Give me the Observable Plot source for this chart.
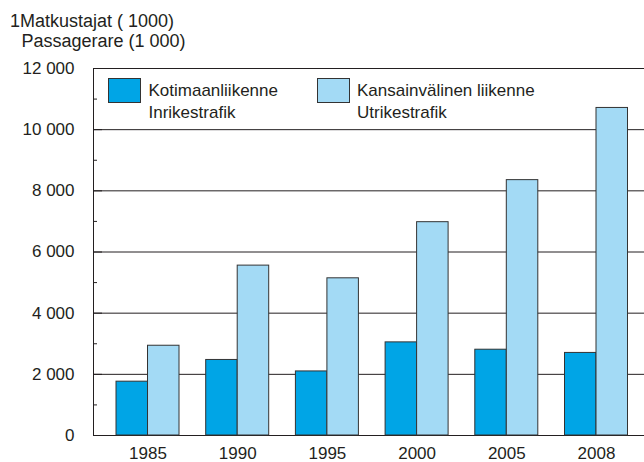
<!DOCTYPE html>
<html><head><meta charset="utf-8">
<script src="https://cdn.jsdelivr.net/npm/d3@7"></script>
<script src="https://cdn.jsdelivr.net/npm/@observablehq/plot@0.6"></script>
<style>
body{margin:0;background:#fff;}
#chart{position:relative;width:644px;height:462px;}
</style></head><body><div id="chart"></div>
<script>
const years = ["1985", "1990", "1995", "2000", "2005", "2008"];
const domestic = [1760, 2470, 2095, 3045, 2805, 2700];
const international = [2935, 5555, 5140, 6975, 8350, 10710];
const seriesNames = [["Kotimaanliikenne", "Inrikestrafik"], ["Kansainvälinen liikenne", "Utrikestrafik"]];
const seriesColors = ["#00a5e6", "#a3daf5"];
const titleLines = ["1Matkustajat ( 1000)", "Passagerare (1 000)"];
const majorTicks = [0, 2000, 4000, 6000, 8000, 10000, 12000];
const minorTicks = [1000, 3000, 5000, 7000, 9000, 11000];

const rows = years.flatMap((y, i) => [
  {year: y, series: 0, value: domestic[i]},
  {year: y, series: 1, value: international[i]}
]);
const fmt = v => d3.format(",")(v).replace(/,/g, " ");
const font = "'Liberation Sans', Arial, Helvetica, sans-serif";
const ink = "#231f20";
const edge = "#333";

const plot = Plot.plot({
  width: 644, height: 462, marginTop: 68, marginBottom: 27, marginLeft: 93, marginRight: 0,
  style: {fontFamily: font, fontSize: "17px", color: ink, background: "white", overflow: "visible"},
  x: {type: "band", domain: years, paddingInner: 0, paddingOuter: 0.0714, align: 0.754, round: false, axis: null, label: null},
  y: {domain: [0, 12000], axis: null, label: null},
  marks: [
    Plot.ruleY(majorTicks, {stroke: ink, strokeWidth: 1}),
    Plot.barY(rows.filter(d => d.series === 0), {x: "year", y: "value", fill: seriesColors[0], stroke: edge, strokeWidth: 1, insetLeft: 13.35, insetRight: 44.85}),
    Plot.barY(rows.filter(d => d.series === 1), {x: "year", y: "value", fill: seriesColors[1], stroke: edge, strokeWidth: 1, insetLeft: 44.85, insetRight: 13.35}),
    Plot.frame({anchor: "left", stroke: ink}),
    Plot.axisY(majorTicks, {tickSize: -9, tickFormat: () => "", stroke: ink, label: null}),
    Plot.axisY(minorTicks, {tickSize: -4, tickFormat: () => "", stroke: ink, label: null}),
    Plot.axisY(majorTicks, {tickSize: 0, tickPadding: 19, tickFormat: fmt, fontSize: 17, fill: ink, label: null}),
    Plot.axisX({tickSize: 0, tickPadding: 11, fontSize: 17, fill: ink, label: null})
  ]
});
document.getElementById("chart").appendChild(plot);

const svg = d3.select(plot);
const g = svg.append("g").attr("font-family", font).attr("fill", ink).attr("text-anchor", "start");
g.selectAll("text.title").data(titleLines).join("text")
  .attr("class", "title")
  .attr("x", (d, i) => i === 0 ? 10 : 21.5)
  .attr("y", (d, i) => 26.5 + i * 20)
  .attr("font-size", 18)
  .text(d => d);

const lx = [108.5, 317.5];
const tx = [148.5, 357];
seriesNames.forEach((names, i) => {
  g.append("rect").attr("x", lx[i]).attr("y", 78.5).attr("width", 32).attr("height", 24)
    .attr("fill", seriesColors[i]).attr("stroke", edge).attr("stroke-width", 1);
  names.forEach((t, j) => {
    g.append("text").attr("x", tx[i]).attr("y", 95.5 + j * 22.5).attr("font-size", 17).text(t);
  });
});
</script></body></html>
